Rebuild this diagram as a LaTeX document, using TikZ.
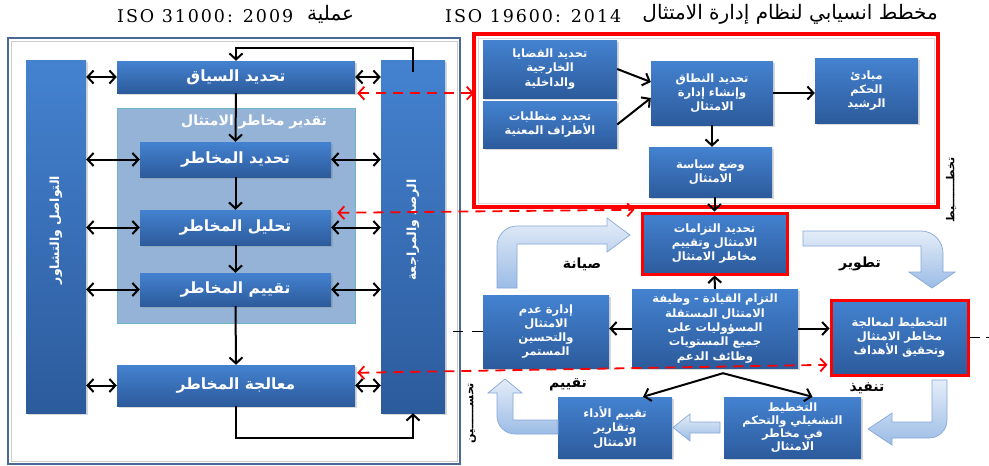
\documentclass[tikz,border=0pt]{standalone}
\usepackage{fontspec}
\setmainfont{Liberation Serif}
\newfontfamily\arabicfont[Script=Arabic]{DejaVu Sans}
\newfontfamily\isofont[LetterSpace=11]{DejaVu Serif}
\TeXXeTstate=1
\usetikzlibrary{arrows.meta,shadows}
\newcommand{\AR}[1]{{\arabicfont\beginR #1\endR}}
\definecolor{boxtop}{HTML}{4482D0}
\definecolor{boxbot}{HTML}{2C5B9C}
\definecolor{lightbox}{HTML}{95B3D7}
\definecolor{lightedge}{HTML}{6FB3C9}
\definecolor{frameblue}{HTML}{4A6896}
\definecolor{baA}{HTML}{E4EDF8}
\definecolor{baB}{HTML}{9CBCE6}
\definecolor{baEdge}{HTML}{86A8D8}
\tikzset{
  bluebox/.style={draw=none, top color=boxtop, bottom color=boxbot, text=white,
    align=center, inner sep=0pt,
    drop shadow={opacity=0.3, shadow xshift=1.5pt, shadow yshift=-1.5pt}},
  bigtxt/.style={font=\fontsize{15.5}{17}\selectfont\bfseries},
  smalltxt/.style={font=\fontsize{11.5}{14.3}\selectfont\bfseries},
  redbox/.style={bluebox, draw=red, line width=3pt},
  blk/.style={draw=black, line width=2pt, -{Straight Barb[length=6pt,width=13pt]}},
  dbl/.style={draw=black, line width=2pt, {Straight Barb[length=6pt,width=13pt]}-{Straight Barb[length=6pt,width=13pt]}},
  reddash/.style={draw=red, line width=1.8pt, dash pattern=on 10pt off 7pt,
    {Straight Barb[length=6pt,width=13pt]}-{Straight Barb[length=6pt,width=13pt]}},
  blockarrow/.style={top color=baA, bottom color=baB, draw=baEdge, line width=0.7pt},
  lbl/.style={font=\fontsize{14}{16}\selectfont\bfseries, text=black},
  sidetxt/.style={rotate=90, font=\fontsize{11}{12}\selectfont\bfseries},
}
\begin{document}
\begin{tikzpicture}[x=1pt,y=-1pt]
\useasboundingbox (0,0) rectangle (989,466);
% titles
\node[anchor=west, font=\isofont\fontsize{17.5}{19}\selectfont, inner sep=0pt] (t1) at (117,16) {ISO 31000: 2009};
\node[anchor=west, font=\fontsize{20}{22}\selectfont, inner sep=0pt] (t2) at (307,14) {\AR{عملية}};
\node[anchor=west, font=\isofont\fontsize{17.5}{19}\selectfont, inner sep=0pt] (t3) at (445,16) {ISO 19600: 2014};
\node[anchor=east, font=\fontsize{20}{22}\selectfont, inner sep=0pt] (t4) at (938,14) {\AR{مخطط انسيابي لنظام إدارة الامتثال}};
% left frame
\draw[frameblue, line width=1.8pt] (8,38) rectangle (460,464);
\draw[gray!40, line width=0.6pt] (11,41) rectangle (457,461);
% bars
\node[bluebox, minimum width=60pt, minimum height=353pt] (lbar) at (56,236.5) {};
\node[bluebox, minimum width=64pt, minimum height=353pt] (rbar) at (413,236.5) {};
\node[rotate=90, text=white, font=\fontsize{12.5}{14}\selectfont\bfseries] (ltxt) at (56,230) {\AR{التواصل والتشاور}};
\node[rotate=90, text=white, font=\fontsize{12.5}{14}\selectfont\bfseries] (rtxt) at (413,230) {\AR{الرصد والمراجعة}};
% assessment light box
\node[draw=lightedge, fill=lightbox, line width=0.8pt, minimum width=238pt, minimum height=215pt, inner sep=0pt] (assess) at (236,215.5) {};
\node[text=white, font=\fontsize{14}{16}\selectfont\bfseries] (assesslbl) at (254,122) {\AR{تقدير مخاطر الامتثال}};
% left boxes
\node[bluebox, bigtxt, minimum width=238pt, minimum height=32pt] (ctx) at (236,77) {\AR{تحديد السياق}};
\node[bluebox, bigtxt, minimum width=191pt, minimum height=35pt] (id) at (235.5,159.5) {\AR{تحديد المخاطر}};
\node[bluebox, bigtxt, minimum width=191pt, minimum height=35pt] (an) at (235.5,227.5) {\AR{تحليل المخاطر}};
\node[bluebox, bigtxt, minimum width=191pt, minimum height=33pt] (ev) at (235.5,289.5) {\AR{تقييم المخاطر}};
\node[bluebox, bigtxt, minimum width=238pt, minimum height=41pt] (tr) at (236,385.5) {\AR{معالجة المخاطر}};
% left arrows
\draw[blk] ([yshift=-12pt]rbar.north) |- ([yshift=13pt]ctx.north) -- (ctx.north);
\draw[blk] (ctx.south) -- (id.north);
\draw[blk] (id.south) -- (an.north);
\draw[blk] (an.south) -- (ev.north);
\draw[blk] (ev.south) -- (tr.north);
\draw[blk] (tr.south) -- ++(0,32) -| (rbar.south);
\foreach \b in {ctx,id,an,ev,tr}{
  \draw[dbl] (\b.west) -- (\b.west -| lbar.east);
  \draw[dbl] (\b.east) -- (\b.east -| rbar.west);
}
% right big red frame
\draw[red, line width=3.2pt] (474,34) rectangle (938,207);
\coordinate (bigredW) at (474,120);
\draw[gray!30, line width=0.6pt] (478,38) rectangle (934,203);
\node[bluebox, smalltxt, minimum width=134pt, minimum height=58pt] (iss) at (550,69) {\AR{تحديد القضايا}\\\AR{الخارجية}\\\AR{والداخلية}};
\node[bluebox, smalltxt, minimum width=134pt, minimum height=47pt] (req) at (550,124.5) {\AR{تحديد متطلبات}\\\AR{الأطراف المعنية}};
\node[bluebox, smalltxt, minimum width=122pt, minimum height=64pt] (scope) at (712,93) {\AR{تحديد النطاق}\\\AR{وإنشاء إدارة}\\\AR{الامتثال}};
\node[bluebox, smalltxt, minimum width=103pt, minimum height=65pt] (gov) at (866.5,90.5) {\AR{مبادئ}\\\AR{الحكم}\\\AR{الرشيد}};
\node[bluebox, smalltxt, minimum width=123pt, minimum height=50pt] (pol) at (710.5,172) {\AR{وضع سياسة}\\\AR{الامتثال}};
\node[redbox, smalltxt, minimum width=145pt, minimum height=61pt] (obl) at (714.5,243.5) {\AR{تحديد التزامات}\\\AR{الامتثال وتقييم}\\\AR{مخاطر الامتثال}};
\node[bluebox, smalltxt, minimum width=166pt, minimum height=79pt] (lead) at (715,328.5) {\AR{التزام القيادة - وظيفة}\\\AR{الامتثال المستقلة}\\\AR{المسؤوليات على}\\\AR{جميع المستويات}\\\AR{وظائف الدعم}};
\node[bluebox, smalltxt, minimum width=126pt, minimum height=73pt] (nc) at (546,331.5) {\AR{إدارة عدم}\\\AR{الامتثال}\\\AR{والتحسين}\\\AR{المستمر}};
\node[redbox, smalltxt, minimum width=137pt, minimum height=75pt] (plan) at (899.5,337.5) {\AR{التخطيط لمعالجة}\\\AR{مخاطر الامتثال}\\\AR{وتحقيق الأهداف}};
\node[bluebox, smalltxt, minimum width=114pt, minimum height=61pt] (perf) at (615,427.5) {\AR{تقييم الأداء}\\\AR{وتقارير}\\\AR{الامتثال}};
\node[bluebox, font=\fontsize{11.5}{13.2}\selectfont\bfseries, minimum width=137pt, minimum height=61pt] (ops) at (792.5,427.5) {\AR{التخطيط}\\\AR{التشغيلي والتحكم}\\\AR{في مخاطر}\\\AR{الامتثال}};
% right arrows
\draw[blk] (iss.east) -- ([shift={(0,-11)}]scope.west);
\draw[blk] (req.east) -- ([shift={(0,5)}]scope.west);
\draw[blk] (scope.east) -- (scope.east -| gov.west);
\draw[blk] (scope.south) -- (scope.south |- pol.north);
\draw[blk] (obl.north |- pol.south) -- (obl.north);
\draw[blk] (lead.north) -- (obl.south);
\draw[blk] (lead.west) -- (lead.west -| nc.east);
\draw[blk] (lead.east) -- (lead.east -| plan.west);
\coordinate (split) at ([shift={(8,5)}]lead.south);
\draw[blk] (split) -- ([xshift=28pt]perf.north);
\draw[blk] (split) -- ([xshift=20pt]ops.north);
% red dashed connectors
\draw[reddash] ([shift={(2,0)}]ctx.south east) -- (ctx.south east -| bigredW);
\draw[reddash] ([shift={(6,3)}]an.north east) -- ([xshift=-6pt]an.north east -| obl.west);
\draw[reddash] ([shift={(2,8)}]tr.north east) -- ([xshift=-2pt]tr.north east -| plan.west);
% black dashed cut lines
\draw[black, line width=1.6pt, dash pattern=on 11pt off 9pt] (nc.west) -- ++(-30,0);
\draw[black, line width=1.6pt, dash pattern=on 10pt off 6pt] (plan.east) -- ++(21,0);
% block arrows
\draw[blockarrow] (497,288) -- (497,246) .. controls (497,235) and (506,226) .. (517,226) -- (607,226) -- (607,218) -- (630,235) -- (607,252) -- (607,244) -- (517,244) -- (517,288) -- cycle;
\draw[blockarrow] (803,231) -- (921,231) .. controls (933,231) and (943,241) .. (943,253) -- (943,272) -- (955,272) -- (932,288) -- (909,272) -- (921,272) -- (921,246) -- (803,246) -- cycle;
\draw[blockarrow] (932,380) -- (947,380) -- (947,420) .. controls (947,430) and (939,438) .. (929,438) -- (892,438) -- (892,445) -- (868,429) -- (892,413) -- (892,422) -- (932,422) -- cycle;
\draw[blockarrow] (558,420) -- (558,434) -- (515,434) .. controls (505,434) and (497,426) .. (497,416) -- (497,393) -- (488,393) -- (505,379) -- (522,393) -- (513,393) -- (513,420) -- cycle;
\draw[blockarrow] (720,422) -- (690,422) -- (690,414) -- (673,427.5) -- (690,441) -- (690,433) -- (720,433) -- cycle;
% labels
\node[lbl] (lmaint) at (582,264) {\AR{صيانة}};
\node[lbl] (ldev) at (860,264) {\AR{تطوير}};
\node[lbl] (lexec) at (867,388) {\AR{تنفيذ}};
\node[lbl] (lchk) at (568,385) {\AR{تقييم}};
\node[sidetxt] (vr) at (951,190) {\AR{تخطـــــــيط}};
\node[sidetxt] (vl) at (472,413) {\AR{تحســــــين}};
\end{tikzpicture}
\end{document}
